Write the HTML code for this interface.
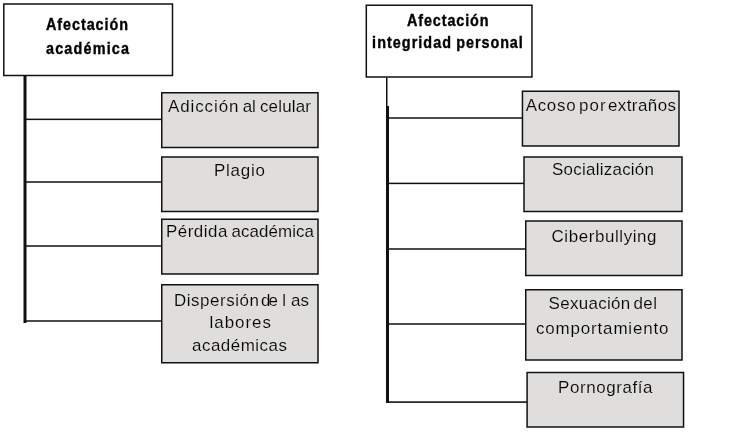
<!DOCTYPE html>
<html><head><meta charset="utf-8"><style>
html,body{margin:0;padding:0;background:#ffffff;width:745px;height:440px;overflow:hidden}
svg{display:block;will-change:transform}
text{font-family:"Liberation Sans",sans-serif;fill:#000}
</style></head><body>
<svg width="745" height="440" viewBox="0 0 745 440">
<rect x="0" y="0" width="745" height="440" fill="#ffffff"/>
<rect x="3.8" y="3.95" width="168.70" height="71.50" fill="#ffffff"/><path d="M3.05 3.20H173.25V76.20H3.05Z M4.55 4.70V74.70H171.75V4.70Z" fill="#111111" fill-rule="evenodd"/>
<text transform="translate(46 29.6) scale(0.9 1)" x="0" y="0" font-size="16" font-weight="bold" stroke="#000" stroke-width="0.35" textLength="91.11" lengthAdjust="spacing">Afectación</text>
<text transform="translate(46 54.4) scale(0.9 1)" x="0" y="0" font-size="16" font-weight="bold" stroke="#000" stroke-width="0.35" textLength="92.22" lengthAdjust="spacing">académica</text>
<rect x="23.50" y="75.5" width="3" height="247.50" fill="#111111"/>
<rect x="26" y="118.60" width="135.75" height="1.5" fill="#111111"/>
<rect x="26" y="181.25" width="135.75" height="1.5" fill="#111111"/>
<rect x="26" y="245.25" width="135.75" height="1.5" fill="#111111"/>
<rect x="26" y="320.25" width="135.75" height="1.5" fill="#111111"/>
<rect x="161.75" y="92.8" width="156.25" height="54.70" fill="#dfdedd"/><path d="M161.00 92.05H318.75V148.25H161.00Z M162.50 93.55V146.75H317.25V93.55Z" fill="#111111" fill-rule="evenodd"/>
<text transform="translate(168 111.5) scale(1.06 1)" x="0" y="0" font-size="16" font-weight="normal" stroke="#dfdedd" stroke-width="0.15" textLength="66.42" lengthAdjust="spacing">Adicción</text>
<text transform="translate(242.8 111.5) scale(1.06 1)" x="0" y="0" font-size="16" font-weight="normal" stroke="#dfdedd" stroke-width="0.15" textLength="12.36" lengthAdjust="spacing">al</text>
<text transform="translate(259.9 111.5) scale(1.06 1)" x="0" y="0" font-size="16" font-weight="normal" stroke="#dfdedd" stroke-width="0.15" textLength="48.21" lengthAdjust="spacing">celular</text>
<rect x="161.75" y="156.9" width="156.25" height="54.70" fill="#dfdedd"/><path d="M161.00 156.15H318.75V212.35H161.00Z M162.50 157.65V210.85H317.25V157.65Z" fill="#111111" fill-rule="evenodd"/>
<text transform="translate(214 175.5) scale(1.06 1)" x="0" y="0" font-size="16" font-weight="normal" stroke="#dfdedd" stroke-width="0.15" textLength="48.11" lengthAdjust="spacing">Plagio</text>
<rect x="161.75" y="219.3" width="156.25" height="54.70" fill="#dfdedd"/><path d="M161.00 218.55H318.75V274.75H161.00Z M162.50 220.05V273.25H317.25V220.05Z" fill="#111111" fill-rule="evenodd"/>
<text transform="translate(166 237) scale(1.06 1)" x="0" y="0" font-size="16" font-weight="normal" stroke="#dfdedd" stroke-width="0.15" textLength="57.92" lengthAdjust="spacing">Pérdida</text>
<text transform="translate(231.4 237) scale(1.06 1)" x="0" y="0" font-size="16" font-weight="normal" stroke="#dfdedd" stroke-width="0.15" textLength="77.92" lengthAdjust="spacing">académica</text>
<rect x="161.75" y="284.8" width="156.25" height="77.90" fill="#dfdedd"/><path d="M161.00 284.05H318.75V363.45H161.00Z M162.50 285.55V361.95H317.25V285.55Z" fill="#111111" fill-rule="evenodd"/>
<text transform="translate(174 305.6) scale(1.06 1)" x="0" y="0" font-size="16" font-weight="normal" stroke="#dfdedd" stroke-width="0.15" textLength="80.19" lengthAdjust="spacing">Dispersión</text>
<text transform="translate(261 305.6) scale(1.06 1)" x="0" y="0" font-size="16" font-weight="normal" stroke="#dfdedd" stroke-width="0.15" textLength="16.04" lengthAdjust="spacing">de</text>
<text transform="translate(282.3 305.6) scale(1.06 1)" x="0" y="0" font-size="16" font-weight="normal" stroke="#dfdedd" stroke-width="0.15" textLength="3.96" lengthAdjust="spacing">l</text>
<text transform="translate(291 305.6) scale(1.06 1)" x="0" y="0" font-size="16" font-weight="normal" stroke="#dfdedd" stroke-width="0.15" textLength="16.98" lengthAdjust="spacing">as</text>
<text transform="translate(209.5 327.5) scale(1.06 1)" x="0" y="0" font-size="16" font-weight="normal" stroke="#dfdedd" stroke-width="0.15" textLength="58.02" lengthAdjust="spacing">labores</text>
<text transform="translate(192 351) scale(1.06 1)" x="0" y="0" font-size="16" font-weight="normal" stroke="#dfdedd" stroke-width="0.15" textLength="89.62" lengthAdjust="spacing">académicas</text>
<rect x="366.3" y="5.34" width="165.65" height="71.71" fill="#ffffff"/><path d="M365.55 4.59H532.70V77.80H365.55Z M367.05 6.09V76.30H531.20V6.09Z" fill="#111111" fill-rule="evenodd"/>
<text transform="translate(407 25.5) scale(0.9 1)" x="0" y="0" font-size="16" font-weight="bold" stroke="#000" stroke-width="0.35" textLength="90.56" lengthAdjust="spacing">Afectación</text>
<text transform="translate(372.1 47.5) scale(0.9 1)" x="0" y="0" font-size="16" font-weight="bold" stroke="#000" stroke-width="0.35" textLength="87.67" lengthAdjust="spacing">integridad</text>
<text transform="translate(456.3 47.5) scale(0.9 1)" x="0" y="0" font-size="16" font-weight="bold" stroke="#000" stroke-width="0.35" textLength="73.89" lengthAdjust="spacing">personal</text>
<rect x="386.00" y="77.5" width="1.5" height="28.50" fill="#111111"/>
<rect x="386.00" y="106" width="3" height="297.00" fill="#111111"/>
<rect x="389" y="117.25" width="133.45" height="1.5" fill="#111111"/>
<rect x="389" y="182.65" width="135.00" height="1.5" fill="#111111"/>
<rect x="389" y="248.25" width="136.75" height="1.5" fill="#111111"/>
<rect x="389" y="323.25" width="136.75" height="1.5" fill="#111111"/>
<rect x="389" y="401.30" width="138.10" height="1.6" fill="#111111"/>
<rect x="522.45" y="91.2" width="156.55" height="54.70" fill="#dfdedd"/><path d="M521.70 90.45H679.75V146.65H521.70Z M523.20 91.95V145.15H678.25V91.95Z" fill="#111111" fill-rule="evenodd"/>
<text transform="translate(525.7 110.5) scale(1.06 1)" x="0" y="0" font-size="16" font-weight="normal" stroke="#dfdedd" stroke-width="0.15" textLength="47.08" lengthAdjust="spacing">Acoso</text>
<text transform="translate(579 110.5) scale(1.06 1)" x="0" y="0" font-size="16" font-weight="normal" stroke="#dfdedd" stroke-width="0.15" textLength="25.09" lengthAdjust="spacing">por</text>
<text transform="translate(607.9 110.5) scale(1.06 1)" x="0" y="0" font-size="16" font-weight="normal" stroke="#dfdedd" stroke-width="0.15" textLength="64.25" lengthAdjust="spacing">extraños</text>
<rect x="524.0" y="156.9" width="158.00" height="54.70" fill="#dfdedd"/><path d="M523.25 156.15H682.75V212.35H523.25Z M524.75 157.65V210.85H681.25V157.65Z" fill="#111111" fill-rule="evenodd"/>
<text transform="translate(552 174.8) scale(1.06 1)" x="0" y="0" font-size="16" font-weight="normal" stroke="#dfdedd" stroke-width="0.15" textLength="96.23" lengthAdjust="spacing">Socialización</text>
<rect x="525.75" y="220.9" width="156.25" height="54.70" fill="#dfdedd"/><path d="M525.00 220.15H682.75V276.35H525.00Z M526.50 221.65V274.85H681.25V221.65Z" fill="#111111" fill-rule="evenodd"/>
<text transform="translate(551.5 241.5) scale(1.06 1)" x="0" y="0" font-size="16" font-weight="normal" stroke="#dfdedd" stroke-width="0.15" textLength="99.06" lengthAdjust="spacing">Ciberbullying</text>
<rect x="525.75" y="289.7" width="156.25" height="70.30" fill="#dfdedd"/><path d="M525.00 288.95H682.75V360.75H525.00Z M526.50 290.45V359.25H681.25V290.45Z" fill="#111111" fill-rule="evenodd"/>
<text transform="translate(548.6 308.5) scale(1.06 1)" x="0" y="0" font-size="16" font-weight="normal" stroke="#dfdedd" stroke-width="0.15" textLength="76.98" lengthAdjust="spacing">Sexuación</text>
<text transform="translate(633.4 308.5) scale(1.06 1)" x="0" y="0" font-size="16" font-weight="normal" stroke="#dfdedd" stroke-width="0.15" textLength="22.26" lengthAdjust="spacing">del</text>
<text transform="translate(536 334.3) scale(1.06 1)" x="0" y="0" font-size="16" font-weight="normal" stroke="#dfdedd" stroke-width="0.15" textLength="125.00" lengthAdjust="spacing">comportamiento</text>
<rect x="527.1" y="372.4" width="156.45" height="54.65" fill="#dfdedd"/><path d="M526.35 371.65H684.30V427.80H526.35Z M527.85 373.15V426.30H682.80V373.15Z" fill="#111111" fill-rule="evenodd"/>
<text transform="translate(558 393) scale(1.06 1)" x="0" y="0" font-size="16" font-weight="normal" stroke="#dfdedd" stroke-width="0.15" textLength="89.15" lengthAdjust="spacing">Pornografía</text>
</svg>
</body></html>
